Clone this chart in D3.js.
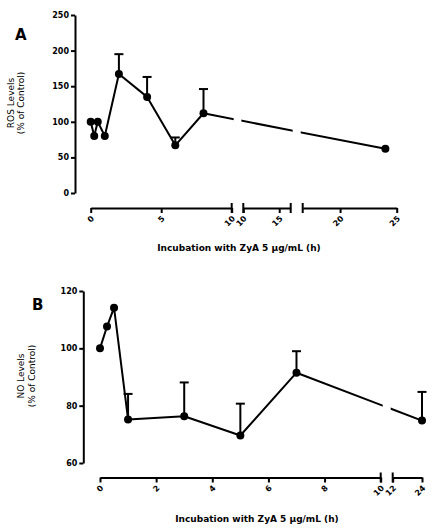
<!DOCTYPE html>
<html>
<head>
<meta charset="utf-8">
<script src="https://cdn.jsdelivr.net/npm/d3@7"></script>
<style>
  body { margin: 0; background: #fff; }
  svg text { font-family: "DejaVu Sans", sans-serif; fill: #000; }
  .tick text { font-size: 8px; font-weight: bold; }
  .axis path, .axis line { stroke: #000; stroke-width: 2; }
  .ytitle { font-size: 9px; }
  .xtitle { font-size: 9px; font-weight: bold; }
  .letter { font-size: 15px; font-weight: bold; }
</style>
</head>
<body>
<svg id="chart" width="436" height="531"></svg>
<script>
// panel A - ROS
const rosHours = [0, 0.25, 0.5, 1, 2, 4, 6, 8, 24];
const rosLevel = [100, 80, 100, 80, 167, 135, 67, 112, 62];
const rosSem = [0, 0, 0, 0, 28, 28, 11, 34, 0];
const rosYTicks = [0, 50, 100, 150, 200, 250];
const rosSegments = [[0, 10], [10, 16.6], [16.7, 25]];
const rosXTicks = [[0, 5, 10], [10, 15], [20, 25]];

// panel B - NO
const noHours = [0, 0.25, 0.5, 1, 3, 5, 7, 24];
const noLevel = [100, 107.6, 114.2, 75.2, 76.3, 69.6, 91.5, 74.8];
const noSem = [0, 0, 0, 8.9, 11.8, 11.1, 7.5, 10];
const noYTicks = [60, 80, 100, 120];
const noSegments = [[0, 10], [12, 24]];
const noXTicks = [[0, 2, 4, 6, 8, 10], [12, 24]];

const xTitle = "Incubation with ZyA 5 \u03bcg/mL (h)";

const svg = d3.select("#chart");

drawPanel({
  id: "a", letter: "A", letterPos: [15, 40],
  yTitle: ["ROS Levels", "(% of Control)"], yTitleX: [13.5, 23.5], yTitleY: 103,
  xTitlePos: [239, 250.5],
  yAxisX: 75, yRange: [193, 15], yDomain: [0, 250], yTicks: rosYTicks,
  xAxisY: 208,
  segRanges: [[90.7, 231.7], [243.3, 290.7], [302.7, 396.7]],
  segments: rosSegments, xTicks: rosXTicks,
  hours: rosHours, level: rosLevel, sem: rosSem,
});

drawPanel({
  id: "b", letter: "B", letterPos: [32, 310],
  yTitle: ["NO Levels", "(% of Control)"], yTitleX: [24, 34.5], yTitleY: 376,
  xTitlePos: [257, 521.5],
  yAxisX: 83.3, yRange: [463, 291], yDomain: [60, 120], yTicks: noYTicks,
  xAxisY: 477.5,
  segRanges: [[100, 380.7], [392.7, 422]],
  segments: noSegments, xTicks: noXTicks,
  hours: noHours, level: noLevel, sem: noSem,
});

function drawPanel(p) {
  const g = svg.append("g");

  const y = d3.scaleLinear().domain(p.yDomain).range(p.yRange);
  const segs = p.segments.map((dom, i) =>
    d3.scaleLinear().domain(dom).range(p.segRanges[i])
  );
  const x = (t) => {
    const s = segs.find((s) => t >= s.domain()[0] && t <= s.domain()[1]);
    return s(t);
  };

  //y axis
  g.append("g")
    .attr("class", "axis")
    .attr("transform", `translate(${p.yAxisX},0)`)
    .call(d3.axisLeft(y).tickValues(p.yTicks).tickSize(4).tickSizeOuter(0).tickPadding(2));

  //x axis, one piece per segment
  segs.forEach((s, i) => {
    const ax = g.append("g")
      .attr("class", "axis")
      .attr("transform", `translate(0,${p.xAxisY})`)
      .call(
        d3.axisBottom(s)
          .tickValues(p.xTicks[i])
          .tickFormat(d3.format("d"))
          .tickSize(5)
          .tickSizeOuter(0)
      );
    ax.selectAll(".tick text")
      .attr("x", 0)
      .attr("y", 0)
      .attr("dy", "0")
      .attr("text-anchor", "end")
      .attr("transform", "translate(3.5,11) rotate(-45)");
    // break marks
    const r = s.range();
    const ends = [];
    if (i > 0) ends.push(r[0]);
    if (i < segs.length - 1) ends.push(r[1]);
    ax.selectAll("line.brk")
      .data(ends)
      .join("line")
      .attr("class", "brk")
      .attr("x1", (d) => d).attr("x2", (d) => d)
      .attr("y1", -5).attr("y2", 5);
  });

  //line, clipped to each axis segment so it breaks at the gaps
  const pts = p.hours.map((h, i) => [x(h), y(p.level[i])]);
  const line = d3.line();
  segs.forEach((s, i) => {
    const r = s.range();
    const x0 = i > 0 ? r[0] - 2 : r[0] - 30;
    const x1 = i < segs.length - 1 ? r[1] + 2 : r[1] + 30;
    svg.append("clipPath")
      .attr("id", `clip-${p.id}-${i}`)
      .append("rect")
      .attr("x", x0).attr("y", 0)
      .attr("width", x1 - x0).attr("height", 531);
    g.append("path")
      .attr("d", line(pts))
      .attr("clip-path", `url(#clip-${p.id}-${i})`)
      .attr("fill", "none")
      .attr("stroke", "#000")
      .attr("stroke-width", 2)
      .attr("stroke-linejoin", "round");
  });

  //error bars (upper only)
  const eb = p.hours
    .map((h, i) => ({ h, m: p.level[i], e: p.sem[i] }))
    .filter((d) => d.e > 0);
  const ebg = g.selectAll("g.err").data(eb).join("g").attr("class", "err");
  ebg.append("line")
    .attr("x1", (d) => x(d.h)).attr("x2", (d) => x(d.h))
    .attr("y1", (d) => y(d.m)).attr("y2", (d) => y(d.m + d.e));
  ebg.append("line")
    .attr("x1", (d) => x(d.h) - 4.5).attr("x2", (d) => x(d.h) + 4.5)
    .attr("y1", (d) => y(d.m + d.e)).attr("y2", (d) => y(d.m + d.e));
  ebg.selectAll("line").attr("stroke", "#000").attr("stroke-width", 2);

  //markers
  g.selectAll("circle.dot")
    .data(pts)
    .join("circle")
    .attr("class", "dot")
    .attr("cx", (d) => d[0])
    .attr("cy", (d) => d[1])
    .attr("r", 4)
    .attr("fill", "#000");

  //titles
  g.append("text")
    .attr("class", "letter")
    .attr("x", p.letterPos[0])
    .attr("y", p.letterPos[1])
    .text(p.letter);

  p.yTitle.forEach((t, i) => {
    g.append("text")
      .attr("class", "ytitle")
      .attr("text-anchor", "middle")
      .attr("transform", `translate(${p.yTitleX[i]},${p.yTitleY}) rotate(-90)`)
      .text(t);
  });

  g.append("text")
    .attr("class", "xtitle")
    .attr("text-anchor", "middle")
    .attr("x", p.xTitlePos[0])
    .attr("y", p.xTitlePos[1])
    .text(xTitle);
}
</script>
</body>
</html>
